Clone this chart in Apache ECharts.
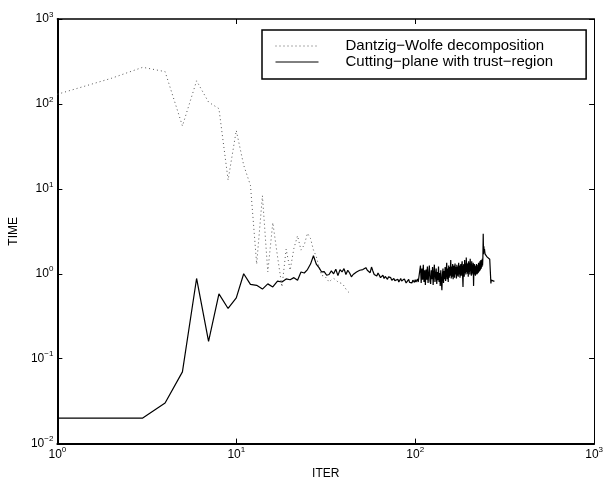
<!DOCTYPE html>
<html>
<head>
<meta charset="utf-8">
<script src="https://cdn.jsdelivr.net/npm/echarts@6/dist/echarts.min.js"></script>
<style>
html,body{margin:0;padding:0;background:#fff;}
#chart{width:606px;height:485px;}
</style>
</head>
<body>
<div id="chart"></div>
<script>
// Data (iteration number = index + 1)
const seriesNames = ['Dantzig\u2212Wolfe decomposition', 'Cutting\u2212plane with trust\u2212region'];
const dwTime = [
  130, 200, 270, 240, 55, 187, 105, 88, 12.7, 48.7,
  19, 11, 1.3, 8.3, 1.05, 4.0, 1.6, 0.7, 1.95, 1.1,
  2.0, 2.8, 1.9, 2.2, 3.0, 2.6, 1.9, 1.6, 1.2, 0.95,
  0.95, 0.88, 0.8, 0.85, 0.88, 0.85, 0.8, 0.78, 0.77, 0.72,
  0.66, 0.62, 0.59
];
const cpTime = [
  0.02, 0.02, 0.02, 0.030, 0.070, 0.88, 0.16, 0.58, 0.39, 0.52,
  1.0, 0.75, 0.73, 0.66, 0.76, 0.70, 0.82, 0.80, 0.87, 0.85,
  0.90, 0.84, 1.05, 1.02, 1.12, 1.30, 1.63, 1.30, 1.18, 1.05,
  1.06, 0.96, 0.98, 1.08, 1.00, 1.13, 0.95, 1.12, 1.05, 1.15,
  0.98, 1.10, 1.02, 0.92, 0.98, 0.97, 1.05, 1.00, 1.10, 1.05,
  1.12, 1.08, 1.18, 1.10, 1.14, 1.03, 1.20, 1.08, 0.98, 1.00,
  0.94, 1.02, 0.96, 0.90, 0.93, 0.96, 0.88, 0.93, 0.90, 0.86,
  0.92, 0.88, 0.90, 0.84, 0.86, 0.88, 0.83, 0.85, 0.82, 0.86,
  0.80, 0.84, 0.88, 0.82, 0.85, 0.80, 0.87, 0.83, 0.78, 0.82,
  0.80, 0.86, 0.79, 0.83, 0.80, 0.78, 0.84, 0.81, 0.79, 0.85,
  0.80, 0.82, 0.87, 0.80, 0.84, 0.78, 1.25, 0.78, 1.15, 0.85,
  1.28, 0.80, 1.10, 0.74, 1.12, 0.85, 1.22, 0.78, 1.00, 1.25,
  0.82, 0.76, 1.10, 0.86, 1.20, 0.74, 1.02, 1.28, 0.80, 0.95,
  1.15, 0.76, 1.05, 0.84, 1.22, 0.80, 1.02, 0.72, 1.10, 0.82,
  0.64, 0.98, 1.15, 0.78, 1.08, 0.86, 1.20, 0.82, 1.05, 1.35,
  0.86, 1.15, 0.80, 1.25, 0.90, 1.20, 0.95, 1.45, 0.88, 1.22,
  0.92, 1.30, 0.86, 1.18, 1.25, 0.90, 1.32, 0.98, 1.20, 0.88,
  1.28, 0.95, 1.22, 0.92, 1.35, 0.98, 1.25, 0.90, 1.20, 1.30,
  0.95, 1.25, 1.40, 0.98, 0.70, 1.20, 1.30, 0.92, 1.45, 1.02,
  1.32, 0.98, 1.55, 1.05, 1.35, 1.00, 1.30, 0.92, 1.40, 1.05,
  1.35, 0.98, 1.50, 1.08, 1.30, 0.95, 1.40, 1.02, 1.28, 0.98,
  1.35, 0.72, 1.20, 1.30, 0.98, 1.25, 0.95, 1.22, 1.00, 1.30,
  0.98, 1.20, 1.00, 1.28, 1.02, 1.35, 1.05, 1.30, 1.08, 1.40,
  1.10, 1.32, 1.45, 1.15, 1.40, 1.20, 1.50, 1.25, 1.55, 2.95,
  1.70, 2.10, 1.80, 1.95, 1.80, 1.70, 1.75, 1.65, 1.70, 1.62,
  1.60, 1.58, 1.62, 1.55, 1.57, 1.52, 1.55, 1.50, 1.52, 1.50,
  1.48, 1.50, 1.47, 1.50, 0.77, 0.84, 0.82, 0.80, 0.83, 0.81,
  0.82, 0.80, 0.81, 0.80, 0.82, 0.81, 0.81
];
const xRange = [1, 1000];
const yRange = [0.01, 1000];
const xTitle = 'ITER';
const yTitle = 'TIME';

const FONT = '"Liberation Sans", Arial, Helvetica, sans-serif';
function powLabel(v) {
  const e = Math.round(Math.log10(v));
  const s = e < 0 ? '\u2212' + (-e) : String(e);
  return '{b|10}{s|' + s + '}';
}
const richLabel = {
  b: { fontSize: 12, fontFamily: FONT, color: '#000', lineHeight: 14 },
  s: { fontSize: 8, fontFamily: FONT, color: '#000', lineHeight: 8, padding: [0, 0, 9, 0] }
};

const chart = echarts.init(document.getElementById('chart'), null, { renderer: 'canvas' });
const option = {
  animation: false,
  backgroundColor: '#fff',
  grid: { left: 53, right: 6, top: 19, bottom: 34 },
  legend: {
    left: 262, top: 30,
    orient: 'vertical',
    data: seriesNames,
    itemWidth: 43, itemHeight: 10, itemGap: 0,
    padding: [8, 33, 9, 13],
    backgroundColor: '#fff',
    borderColor: '#000', borderWidth: 1.5, borderRadius: 0,
    selectedMode: false,
    itemStyle: { opacity: 0 },
    lineStyle: { width: 1 },
    textStyle: { fontSize: 15, fontFamily: FONT, color: '#000', lineHeight: 16, padding: [0, 0, 0, 22] }
  },
  xAxis: [
    {
      type: 'log', logBase: 10, min: xRange[0], max: xRange[1], position: 'bottom',
      name: xTitle, nameLocation: 'middle', nameGap: 14,
      nameTextStyle: { fontSize: 12, fontFamily: FONT, color: '#000', verticalAlign: 'top' },
      axisLine: { lineStyle: { color: '#000', width: 2 } },
      axisTick: { inside: true, length: 5, lineStyle: { color: '#000', width: 1 } },
      minorTick: { show: false },
      splitLine: { show: false },
      axisLabel: { formatter: powLabel, rich: richLabel, margin: 4, showMinLabel: true, showMaxLabel: true }
    },
    {
      type: 'log', logBase: 10, min: xRange[0], max: xRange[1], position: 'top',
      axisLine: { lineStyle: { color: '#000', width: 1.5 } },
      axisTick: { inside: true, length: 5, lineStyle: { color: '#000', width: 1 } },
      splitLine: { show: false },
      axisLabel: { show: false }
    }
  ],
  yAxis: [
    {
      type: 'log', logBase: 10, min: yRange[0], max: yRange[1], position: 'left',
      name: yTitle, nameLocation: 'middle', nameGap: 30, nameRotate: 90,
      nameTextStyle: { fontSize: 12, fontFamily: FONT, color: '#000' },
      axisLine: { lineStyle: { color: '#000', width: 2 } },
      axisTick: { inside: true, length: 5, lineStyle: { color: '#000', width: 1 } },
      splitLine: { show: false },
      axisLabel: { formatter: powLabel, rich: richLabel, margin: 4, showMinLabel: true, showMaxLabel: true }
    },
    {
      type: 'log', logBase: 10, min: yRange[0], max: yRange[1], position: 'right',
      axisLine: { lineStyle: { color: '#000', width: 1 } },
      axisTick: { inside: true, length: 5, lineStyle: { color: '#000', width: 1 } },
      splitLine: { show: false },
      axisLabel: { show: false }
    }
  ],
  series: [
    {
      name: seriesNames[0], type: 'line', xAxisIndex: 0, yAxisIndex: 0,
      showSymbol: false, symbol: 'none',
      lineStyle: { color: '#555', width: 1, type: [1, 3] },
      itemStyle: { color: '#555' },
      data: dwTime.map((v, i) => [i + 1, v])
    },
    {
      name: seriesNames[1], type: 'line', xAxisIndex: 0, yAxisIndex: 0,
      showSymbol: false, symbol: 'none',
      lineStyle: { color: '#000', width: 1.2 },
      itemStyle: { color: '#000' },
      data: cpTime.map((v, i) => [i + 1, v])
    }
  ]
};
chart.setOption(option);
</script>
</body>
</html>
